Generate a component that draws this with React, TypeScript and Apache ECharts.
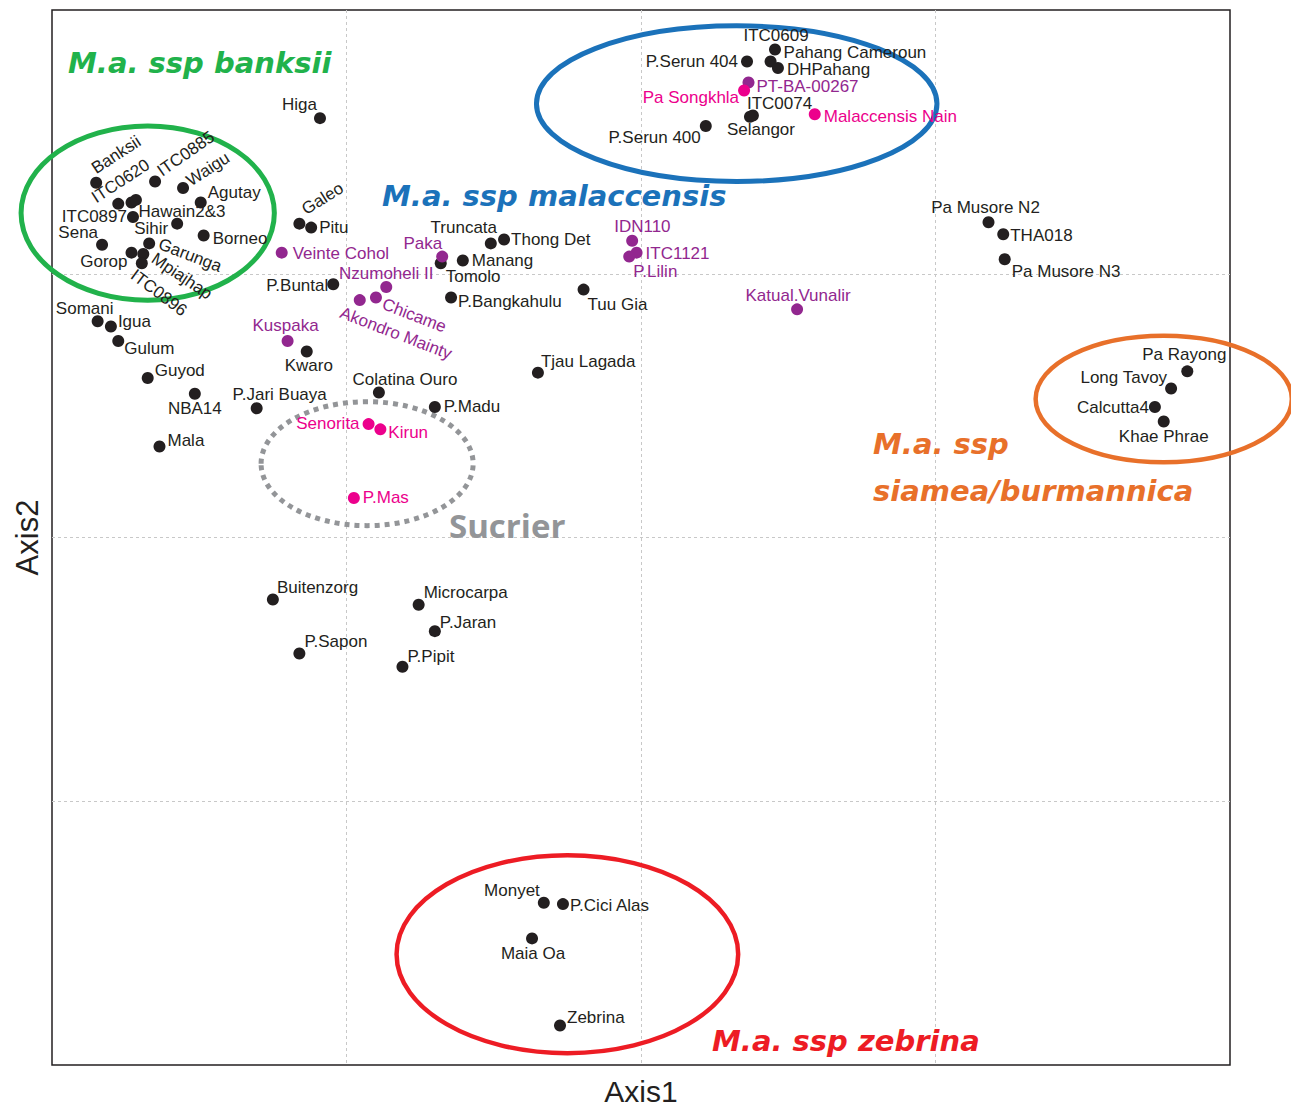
import React, { useEffect, useRef } from "react";
import * as echarts from "echarts";

type Pt = [string, number, number];

// Accessions (Axis1, Axis2), grouped by marker colour
const blackPoints: Pt[] = [
  ["Higa", -2.18, 3.18],
  ["Banksii", -3.7, 2.69],
  ["ITC0620", -3.55, 2.53],
  ["Hawain2", -3.46, 2.54],
  ["Hawain3", -3.43, 2.56],
  ["ITC0885", -3.3, 2.7],
  ["Waigu", -3.11, 2.65],
  ["Agutay", -2.99, 2.54],
  ["ITC0897", -3.45, 2.43],
  ["Sihir", -3.15, 2.38],
  ["Sena", -3.66, 2.22],
  ["Borneo", -2.97, 2.29],
  ["Garunga", -3.34, 2.23],
  ["Gorop", -3.46, 2.16],
  ["Mpiajhap", -3.38, 2.15],
  ["ITC0896", -3.39, 2.08],
  ["Galeo", -2.32, 2.38],
  ["Pitu", -2.24, 2.35],
  ["P.Buntal", -2.09, 1.92],
  ["Somani", -3.69, 1.64],
  ["Igua", -3.6, 1.6],
  ["Gulum", -3.55, 1.49],
  ["Guyod", -3.35, 1.21],
  ["NBA14", -3.03, 1.09],
  ["P.Jari Buaya", -2.61, 0.98],
  ["Mala", -3.27, 0.69],
  ["Kwaro", -2.27, 1.41],
  ["Colatina Ouro", -1.78, 1.1],
  ["P.Madu", -1.4, 0.99],
  ["Truncata", -1.02, 2.23],
  ["Thong Det", -0.93, 2.26],
  ["Tomolo", -1.36, 2.08],
  ["Manang", -1.21, 2.1],
  ["P.Bangkahulu", -1.29, 1.82],
  ["Tuu Gia", -0.39, 1.88],
  ["Tjau Lagada", -0.7, 1.25],
  ["ITC0609", 0.91, 3.7],
  ["P.Serun 404", 0.72, 3.61],
  ["Pahang Cameroun", 0.88, 3.61],
  ["DHPahang", 0.93, 3.56],
  ["ITC0074", 0.76, 3.2],
  ["Selangor", 0.74, 3.19],
  ["P.Serun 400", 0.44, 3.12],
  ["Pa Musore N2", 2.36, 2.39],
  ["THA018", 2.46, 2.3],
  ["Pa Musore N3", 2.47, 2.11],
  ["Pa Rayong", 3.71, 1.26],
  ["Long Tavoy", 3.6, 1.13],
  ["Calcutta4", 3.49, 0.99],
  ["Khae Phrae", 3.55, 0.88],
  ["Buitenzorg", -2.5, -0.47],
  ["P.Sapon", -2.32, -0.88],
  ["Microcarpa", -1.51, -0.51],
  ["P.Jaran", -1.4, -0.71],
  ["P.Pipit", -1.62, -0.98],
  ["Monyet", -0.66, -2.77],
  ["P.Cici Alas", -0.53, -2.78],
  ["Maia Oa", -0.74, -3.04],
  ["Zebrina", -0.55, -3.7],
];

const purplePoints: Pt[] = [
  ["Veinte Cohol", -2.44, 2.16],
  ["Kuspaka", -2.4, 1.49],
  ["Paka", -1.35, 2.13],
  ["Nzumoheli II", -1.73, 1.9],
  ["Chicame", -1.8, 1.82],
  ["Akondro Mainty", -1.91, 1.8],
  ["IDN110", -0.06, 2.25],
  ["ITC1121", -0.03, 2.16],
  ["P.Lilin", -0.08, 2.13],
  ["Katual.Vunalir", 1.06, 1.73],
  ["PT-BA-00267", 0.73, 3.45],
];

const pinkPoints: Pt[] = [
  ["Pa Songkhla", 0.7, 3.39],
  ["Malaccensis Nain", 1.18, 3.21],
  ["Senorita", -1.85, 0.86],
  ["Kirun", -1.77, 0.82],
  ["P.Mas", -1.95, 0.3],
];

// Group ellipses: centre x, centre y, radius x, radius y (axis units)
const ellipseBanksii = [-3.35, 2.46, 0.86, 0.66];
const ellipseMalaccensis = [0.65, 3.29, 1.36, 0.59];
const ellipseSiamea = [3.55, 1.05, 0.87, 0.48];
const ellipseSucrier = [-1.86, 0.56, 0.72, 0.47];
const ellipseZebrina = [-0.5, -3.16, 1.16, 0.75];

const axisTicks = [-4, -2, 0, 2, 4];

// ---- styles ----
const BLACK = "#231f20";
const PURPLE = "#92278f";
const PINK = "#ec008c";
const GREEN = "#21b24b";
const BLUE = "#1b72ba";
const ORANGE = "#e8702a";
const RED = "#ed1c24";
const GREY = "#939598";
const FONT = '"Liberation Sans", Arial, sans-serif';
const TITLE_FONT = '"DejaVu Sans", sans-serif';
const SUCRIER_FONT = '"Open Sans", "Noto Sans", sans-serif';
const SYM = 12;

// label placement: dx, dy from dot centre, align, rotate, text override
type Lay = [number, number, "l" | "r" | "c", number, string?];
const labelLayout: Record<string, Lay> = {
  Higa: [-3, -14, "r", 0],
  Banksii: [-3, -13, "l", 33],
  ITC0620: [-25, -5, "l", 33],
  ITC0885: [4, -9, "l", 35],
  Waigu: [5, -6, "l", 33],
  Agutay: [7, -10, "l", 0],
  ITC0897: [-6, -1, "r", 0],
  Hawain2: [7, 9, "l", 0, "Hawain2&3"],
  Sihir: [-9, 5, "r", 0],
  Sena: [-4, -12, "r", 0],
  Borneo: [9, 3, "l", 0],
  Garunga: [10, 0, "l", -21],
  Gorop: [-4, 9, "r", 0],
  Mpiajhap: [10, 3, "l", -34],
  ITC0896: [-9, 10, "l", -37],
  Galeo: [4, -13, "l", 32],
  Pitu: [8, 0, "l", 0],
  "Veinte Cohol": [11, 1, "l", 0],
  "P.Buntal": [-5, 1, "r", 0],
  Somani: [-13, -13, "c", 0],
  Igua: [7, -5, "l", 0],
  Gulum: [6, 7, "l", 0],
  Guyod: [7, -7, "l", 0],
  NBA14: [0, 15, "c", 0],
  "P.Jari Buaya": [23, -14, "c", 0],
  Mala: [8, -6, "l", 0],
  Kuspaka: [-2, -16, "c", 0],
  Kwaro: [2, 14, "c", 0],
  "Colatina Ouro": [26, -13, "c", 0],
  "P.Madu": [9, 0, "l", 0],
  Senorita: [-9, -1, "r", 0],
  Kirun: [8, 3, "l", 0],
  "P.Mas": [9, 0, "l", 0],
  Truncata: [-27, -16, "c", 0],
  "Thong Det": [7, 0, "l", 0],
  Paka: [0, -13, "r", 0],
  Tomolo: [5, 13, "l", 0],
  Manang: [9, 0, "l", 0],
  "Nzumoheli II": [0, -13, "c", 0],
  Chicame: [7, 6, "l", -21],
  "Akondro Mainty": [-19, 12, "l", -21],
  "P.Bangkahulu": [7, 4, "l", 0],
  "Tuu Gia": [4, 15, "l", 0],
  "Tjau Lagada": [3, -11, "l", 0],
  IDN110: [-18, -14, "l", 0],
  ITC1121: [9, 1, "l", 0],
  "P.Lilin": [4, 15, "l", 0],
  "Katual.Vunalir": [1, -14, "c", 0],
  ITC0609: [1, -14, "c", 0],
  "P.Serun 404": [-9, 0, "r", 0],
  "Pahang Cameroun": [13, -9, "l", 0],
  DHPahang: [9, 1, "l", 0],
  "PT-BA-00267": [8, 4, "l", 0],
  "Pa Songkhla": [-5, 7, "r", 0],
  ITC0074: [-6, -12, "l", 0],
  Selangor: [11, 13, "c", 0],
  "Malaccensis Nain": [9, 2, "l", 0],
  "P.Serun 400": [-5, 11, "r", 0],
  "Pa Musore N2": [-3, -15, "c", 0],
  THA018: [7, 1, "l", 0],
  "Pa Musore N3": [7, 12, "l", 0],
  "Pa Rayong": [-3, -17, "c", 0],
  "Long Tavoy": [-4, -11, "r", 0],
  Calcutta4: [-6, 1, "r", 0],
  "Khae Phrae": [0, 15, "c", 0],
  Buitenzorg: [4, -12, "l", 0],
  "P.Sapon": [5, -12, "l", 0],
  Microcarpa: [5, -12, "l", 0],
  "P.Jaran": [5, -9, "l", 0],
  "P.Pipit": [5, -10, "l", 0],
  Monyet: [-4, -12, "r", 0],
  "P.Cici Alas": [7, 1, "l", 0],
  "Maia Oa": [1, 15, "c", 0],
  Zebrina: [7, -8, "l", 0],
};

function buildData(points: Pt[], color: string) {
  return points.map(([name, x, y]) => {
    const lay = labelLayout[name];
    if (!lay) return { name, value: [x, y], label: { show: false } };
    const [dx, dy, al, rot, txt] = lay;
    return {
      name,
      value: [x, y],
      labelText: txt ?? name,
      label: {
        show: true,
        position: [SYM / 2 + dx, SYM / 2 + dy],
        align: al === "l" ? "left" : al === "r" ? "right" : "center",
        verticalAlign: "middle",
        rotate: rot,
        color,
      },
    };
  });
}

const ellipseStyles = [
  { color: GREEN, width: 5, dash: null as any },
  { color: BLUE, width: 5, dash: null as any },
  { color: ORANGE, width: 4.5, dash: null as any },
  { color: GREY, width: 5, dash: [5, 5] },
  { color: RED, width: 4.5, dash: null as any },
];

function scatterSeries(points: Pt[], color: string) {
  return {
    type: "scatter",
    symbol: "circle",
    symbolSize: SYM,
    itemStyle: { color, opacity: 1 },
    z: 5,
    label: {
      show: true,
      fontSize: 17,
      lineHeight: 13,
      fontFamily: FONT,
      formatter: (p: any) => p.data.labelText ?? "",
    },
    labelLayout: { hideOverlap: false },
    data: buildData(points, color),
  };
}

function titleText(
  text: string,
  x: number,
  y: number,
  fill: string,
  font = `italic bold 29px ${TITLE_FONT}`
) {
  return {
    type: "text",
    x,
    y,
    z: 10,
    style: { text, fill, font, align: "left", verticalAlign: "middle" },
  };
}

export default function App() {
  const ref = useRef<HTMLDivElement>(null);
  useEffect(() => {
    if (!ref.current) return;
    const chart = echarts.init(ref.current, null, { renderer: "svg" });
    const axisCommon = {
      type: "value",
      min: axisTicks[0],
      max: axisTicks[axisTicks.length - 1],
      interval: axisTicks[1] - axisTicks[0],
      axisLabel: { show: false },
      axisTick: { show: false },
      axisLine: { show: false },
      splitLine: {
        show: true,
        showMinLine: false,
        showMaxLine: false,
        lineStyle: { color: "#c8c8c8", type: [3, 3], width: 1 },
      },
      nameLocation: "middle",
    };
    chart.setOption({
      animation: false,
      backgroundColor: "#ffffff",
      grid: {
        left: 52,
        right: 61,
        top: 10,
        bottom: 44,
        show: true,
        borderColor: BLACK,
        borderWidth: 1.5,
        containLabel: false,
        outerBoundsMode: "none",
      },
      xAxis: {
        ...axisCommon,
        name: "Axis1",
        nameGap: 14,
        nameTextStyle: {
          fontSize: 30,
          lineHeight: 24,
          color: BLACK,
          fontFamily: FONT,
          verticalAlign: "top",
        },
      },
      yAxis: {
        ...axisCommon,
        name: "Axis2",
        nameGap: 12,
        nameRotate: 90,
        nameTextStyle: { fontSize: 31, lineHeight: 26, color: BLACK, fontFamily: FONT },
      },
      graphic: [
        titleText("M.a. ssp banksii", 68, 63, GREEN),
        titleText("M.a. ssp malaccensis", 382, 196, BLUE),
        titleText("M.a. ssp", 873, 444, ORANGE),
        titleText("siamea/burmannica", 873, 491, ORANGE),
        titleText("Sucrier", 449, 525, GREY, `bold 33px ${SUCRIER_FONT}`),
        titleText("M.a. ssp zebrina", 712, 1041, RED),
      ],
      series: [
        {
          type: "custom",
          coordinateSystem: "cartesian2d",
          clip: false,
          silent: true,
          z: 1,
          data: [ellipseBanksii, ellipseMalaccensis, ellipseSiamea, ellipseSucrier, ellipseZebrina],
          renderItem: (params: any, api: any) => {
            const cx = api.value(0);
            const cy = api.value(1);
            const rx = api.value(2);
            const ry = api.value(3);
            const c = api.coord([cx, cy]);
            const e = api.coord([cx + rx, cy + ry]);
            const st = ellipseStyles[params.dataIndex];
            return {
              type: "ellipse",
              shape: { cx: c[0], cy: c[1], rx: Math.abs(e[0] - c[0]), ry: Math.abs(c[1] - e[1]) },
              style: { fill: "none", stroke: st.color, lineWidth: st.width, lineDash: st.dash || undefined },
            };
          },
        },
        scatterSeries(blackPoints, BLACK),
        scatterSeries(purplePoints, PURPLE),
        scatterSeries(pinkPoints, PINK),
      ],
    });
    return () => chart.dispose();
  }, []);
  return (
    <div
      ref={ref}
      style={{ position: "fixed", left: 0, top: 0, width: 1291, height: 1109, background: "#fff" }}
    />
  );
}
